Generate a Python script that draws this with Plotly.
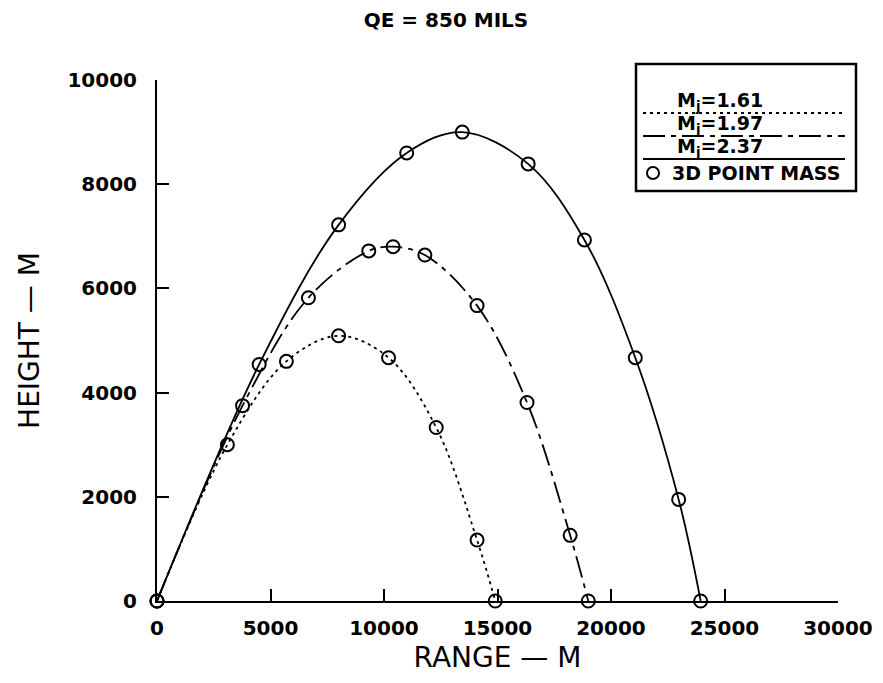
import plotly.graph_objects as go

# ---- data, metres ----
x_161 = [0, 3100, 5700, 8000, 10200, 12300, 14100, 14900]
y_161 = [0, 3000, 4600, 5090, 4670, 3330, 1170, 0]

x_197 = [0, 3770, 6670, 9330, 10400, 11800, 14100, 16300, 18200, 19000]
y_197 = [0, 3750, 5820, 6720, 6800, 6640, 5670, 3810, 1260, 0]

x_237 = [0, 4500, 8000, 11000, 13450, 16350, 18830, 21070, 22980, 23950]
y_237 = [0, 4540, 7220, 8600, 9000, 8390, 6930, 4670, 1950, 0]

x_ticks = [0, 5000, 10000, 15000, 20000, 25000, 30000]
y_ticks = [0, 2000, 4000, 6000, 8000, 10000]

labels = ["M<sub>j</sub>=1.61", "M<sub>j</sub>=1.97", "M<sub>j</sub>=2.37"]
dashes = ["3px,4px", "22px,6px,5px,6px", "solid"]

# page body adds an 8px offset; figure is sized to fill the rest of the window
OFF = 8
W, H = 883 - OFF, 683 - OFF
L, T = 157 - OFF, 80 - OFF
PW, PH = 681, 521
R, B = W - L - PW, H - T - PH

def px(x):
    return (x - OFF - L) / PW

def py(y):
    return (T + PH - (y - OFF)) / PH

FONT = "DejaVu Sans"
fig = go.Figure()

series = [(x_161, y_161), (x_197, y_197), (x_237, y_237)]
for (xs, ys), dash, name in zip(series, dashes, labels):
    fig.add_trace(go.Scatter(
        x=xs, y=ys, mode="lines", line=dict(color="black", width=1.8, dash=dash, shape="spline", smoothing=1.0),
        name=name, showlegend=False, cliponaxis=False))
for xs, ys in series:
    fig.add_trace(go.Scatter(
        x=xs, y=ys, mode="markers",
        marker=dict(symbol="circle-open", size=13, color="black", line=dict(width=2, color="black")),
        showlegend=False, cliponaxis=False))

# ---- custom legend box ----
shapes = [dict(type="rect", xref="paper", yref="paper", x0=px(636), x1=px(856), y0=py(191), y1=py(64),
               line=dict(color="black", width=2.5), fillcolor="white", layer="above")]
annotations = []
line_y = [113, 136, 159]
text_y = [101, 124, 147]
for lab, dash, ly, ty in zip(labels, dashes, line_y, text_y):
    shapes.append(dict(type="line", xref="paper", yref="paper", x0=px(643), x1=px(845), y0=py(ly), y1=py(ly),
                       line=dict(color="black", width=1.8, dash=dash), layer="above"))
    annotations.append(dict(text=lab, xref="paper", yref="paper", x=px(720), y=py(ty), showarrow=False,
                            xanchor="center", yanchor="middle", font=dict(family=FONT, size=19, color="black", weight="bold")))
shapes.append(dict(type="circle", xref="paper", yref="paper", xsizemode="pixel", ysizemode="pixel",
                   xanchor=px(653), yanchor=py(173), x0=-6, x1=6, y0=-6, y1=6,
                   line=dict(color="black", width=2), layer="above"))
annotations.append(dict(text="3D POINT MASS", xref="paper", yref="paper", x=px(670), y=py(173), showarrow=False,
                        xanchor="left", yanchor="middle", font=dict(family=FONT, size=19, color="black", weight="bold")))

fig.update_layout(
    width=W, height=H,
    margin=dict(l=L, r=R, t=T, b=B),
    paper_bgcolor="white", plot_bgcolor="white",
    title=dict(text="QE = 850 MILS", x=px(446) * PW / W + L / W, xanchor="center", y=1 - (20 - OFF) / H, yanchor="middle",
               font=dict(family=FONT, size=20, color="black", weight="bold"), automargin=False),
    xaxis=dict(range=[0, 30000], tickvals=x_ticks, ticktext=[str(v) for v in x_ticks], automargin=False,
               ticks="inside", ticklen=12, tickwidth=1.5, tickcolor="black",
               showline=True, linecolor="black", linewidth=2, showgrid=False, zeroline=False,
               tickfont=dict(family=FONT, size=20, color="black", weight="bold"), ticklabelstandoff=8,
               title=dict(text="RANGE — M", font=dict(family=FONT, size=28, color="black"), standoff=8)),
    yaxis=dict(range=[0, 10000], tickvals=y_ticks, ticktext=[str(v) for v in y_ticks], automargin=False,
               ticks="inside", ticklen=12, tickwidth=1.5, tickcolor="black",
               showline=True, linecolor="black", linewidth=2, showgrid=False, zeroline=False,
               tickfont=dict(family=FONT, size=20, color="black", weight="bold"), ticklabelstandoff=14,
               title=dict(text="HEIGHT — M", font=dict(family=FONT, size=28, color="black"), standoff=20)),
    shapes=shapes, annotations=annotations,
)

fig.write_html("out.html")
